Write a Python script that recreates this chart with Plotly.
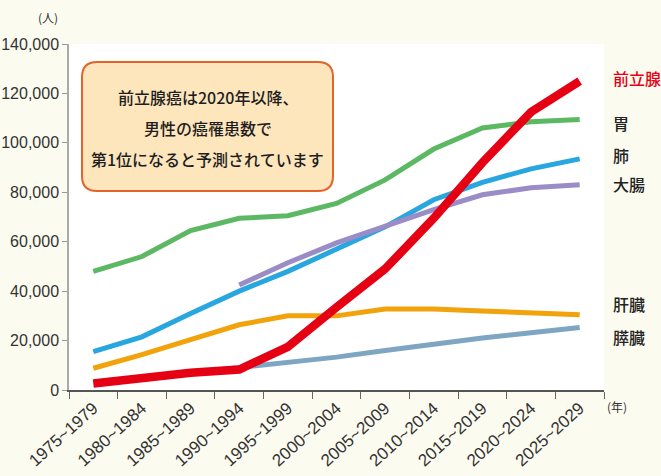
import plotly.graph_objects as go

periods = ["1975~1979", "1980~1984", "1985~1989", "1990~1994", "1995~1999",
           "2000~2004", "2005~2009", "2010~2014", "2015~2019", "2020~2024", "2025~2029"]

prostate = [2600, 5000, 7000, 8300, 17500, 33500, 49000, 69500, 92000, 112500, 125000]
stomach = [48000, 54000, 64500, 69500, 70500, 75500, 85000, 97500, 106000, 108500, 109500]
lung = [15500, 21500, 31000, 40000, 48000, 57000, 66000, 77000, 84000, 89500, 93500]
colorectal = [None, None, None, 42500, 51500, 59500, 66500, 73000, 79000, 81800, 83000]
liver = [8800, 14300, 20400, 26400, 30000, 30000, 32800, 32800, 32000, 31300, 30400]
pancreas = [None, None, 7000, 9200, 11000, 13300, 16000, 18700, 21000, 23200, 25300]

series_labels = ["前立腺", "胃", "肺", "大腸", "肝臓", "膵臓"]
box_lines = ["前立腺癌は2020年以降、", "男性の癌罹患数で", "第1位になると予測されています"]

W, H = 661, 476
ML, MR, MT, MB = 69, 57, 44, 86
PW, PH = W - ML - MR, H - MT - MB


def px(x):
    return (x - ML) / PW


def py(y):
    return (H - MB - y) / PH


fig = go.Figure()
traces = [
    (pancreas, "#7ea6c2", 5),
    (liver, "#f2a20a", 5),
    (lung, "#27a6e0", 5),
    (colorectal, "#9a8cc6", 5),
    (stomach, "#5db864", 5),
    (prostate, "#e60014", 8.5),
]
for vals, col, w in traces:
    fig.add_trace(go.Scatter(x=periods, y=vals, mode="lines",
                             line=dict(color=col, width=w),
                             connectgaps=False, showlegend=False, hoverinfo="skip"))

# rounded annotation box
x0, x1, y0, y1 = px(82), px(333), py(191), py(62)
rx, ry = 15 / PW, 15 / PH
path = (f"M {x0+rx},{y1} L {x1-rx},{y1} Q {x1},{y1} {x1},{y1-ry} "
        f"L {x1},{y0+ry} Q {x1},{y0} {x1-rx},{y0} L {x0+rx},{y0} "
        f"Q {x0},{y0} {x0},{y0+ry} L {x0},{y1-ry} Q {x0},{y1} {x0+rx},{y1} Z")
fig.add_shape(type="path", path=path, xref="paper", yref="paper",
              fillcolor="#fde5bc", line=dict(color="#e5622a", width=2), layer="above")

annots = []
for txt, yy in zip(box_lines, [97, 128, 159]):
    annots.append(dict(text=txt, x=px(207.5), y=py(yy), xref="paper", yref="paper",
                       showarrow=False, xanchor="center", yanchor="middle",
                       font=dict(family="Noto Sans CJK JP", size=16, weight=500,
                                 color="#1e1e1e")))

label_pos = [78, 123, 155, 184, 304, 337]
for i, (lab, yy) in enumerate(zip(series_labels, label_pos)):
    annots.append(dict(text=lab, x=px(611), y=py(yy), xref="paper", yref="paper",
                       showarrow=False, xanchor="left", yanchor="middle",
                       font=dict(family="Noto Sans CJK JP", size=16, weight=500,
                                 color="#e60014" if i == 0 else "#222222")))

annots.append(dict(text="(人)", x=px(48), y=py(18), xref="paper", yref="paper",
                   showarrow=False, xanchor="center", yanchor="middle",
                   font=dict(family="Noto Sans CJK JP", size=12, color="#333333")))
annots.append(dict(text="(年)", x=px(617), y=py(407), xref="paper", yref="paper",
                   showarrow=False, xanchor="center", yanchor="middle",
                   font=dict(family="Noto Sans CJK JP", size=12, color="#333333")))

fig.update_layout(
    width=W, height=H,
    margin=dict(l=ML, r=MR, t=MT, b=MB, pad=0, autoexpand=False),
    paper_bgcolor="#fcfbf0",
    plot_bgcolor="#ffffff",
    annotations=annots,
    xaxis=dict(type="category", range=[-0.5, 10.5], tickson="boundaries",
               ticks="outside", ticklen=7, tickcolor="#666666", tickwidth=1.2,
               showline=True, linecolor="#555555", linewidth=1.5,
               showgrid=False, zeroline=False, tickangle=-42, automargin=False,
               tickfont=dict(family="Liberation Sans", size=17, color="#333333")),
    yaxis=dict(range=[0, 140000], dtick=20000, tickformat=",",
               ticks="outside", ticklen=5, tickcolor="#999999", tickwidth=1.2,
               showline=True, linecolor="#aaaaaa", linewidth=1.5,
               showgrid=False, zeroline=False, automargin=False,
               tickfont=dict(family="Liberation Sans", size=16, color="#333333")),
)

fig.write_html("out.html")
